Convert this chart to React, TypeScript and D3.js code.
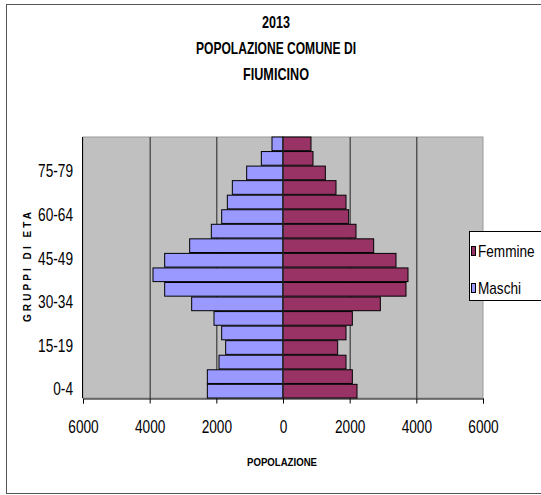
import { useEffect, useRef } from 'react';
import * as d3 from 'd3';

const W = 541;
const H = 495;
const PLOT = { left: 83, right: 483, top: 137, bottom: 398 };

const ageGroups = [
  '0-4', '5-9', '10-14', '15-19', '20-24', '25-29', '30-34', '35-39', '40-44',
  '45-49', '50-54', '55-59', '60-64', '65-69', '70-74', '75-79', '80-84', '85+',
];
const maschi = [2270, 2270, 1920, 1720, 1840, 2070, 2740, 3550, 3900, 3550, 2800, 2150, 1840, 1670, 1520, 1090, 650, 330];
const femmine = [2220, 2080, 1890, 1640, 1890, 2080, 2920, 3690, 3750, 3390, 2720, 2190, 1970, 1890, 1590, 1270, 900, 840];
const xTicks = [-6000, -4000, -2000, 0, 2000, 4000, 6000];
const yLabelGroups = ['0-4', '15-19', '30-34', '45-49', '60-64', '75-79'];
const titleLines = ['2013', 'POPOLAZIONE COMUNE DI', 'FIUMICINO'];
const titleWidths = [28, 160, 66];

const FEM = '#993366';
const MAS = '#9999FF';
const FONT = '"Liberation Sans", Arial, sans-serif';
const SQUEEZE = 0.76;

export default function App() {
  const ref = useRef<SVGSVGElement>(null);

  useEffect(() => {
    if (!ref.current) return;
    const svg = d3.select(ref.current);
    svg.selectAll('*').remove();

    const x = d3.scaleLinear().domain([-6000, 6000]).range([PLOT.left, PLOT.right]);
    const y = d3
      .scaleBand()
      .domain([...ageGroups].reverse())
      .range([PLOT.top, PLOT.bottom])
      .paddingInner(0.06);

    // outer frame
    svg.append('rect')
      .attr('x', 6.5).attr('y', 4.5).attr('width', 540).attr('height', 489)
      .attr('fill', '#fff').attr('stroke', '#555').attr('stroke-width', 1);

    // plot background
    svg.append('rect')
      .attr('x', PLOT.left).attr('y', PLOT.top)
      .attr('width', PLOT.right - PLOT.left).attr('height', PLOT.bottom - PLOT.top)
      .attr('fill', '#C0C0C0').attr('stroke', '#999');

    // gridlines
    svg.append('g')
      .selectAll('line')
      .data(xTicks.filter((t) => Math.abs(t) !== 6000 && t !== 0))
      .enter()
      .append('line')
      .attr('x1', (d) => x(d) + 0.5).attr('x2', (d) => x(d) + 0.5)
      .attr('y1', PLOT.top).attr('y2', PLOT.bottom)
      .attr('stroke', '#222').attr('stroke-width', 1);

    // bars
    svg.append('g')
      .selectAll('rect')
      .data(ageGroups)
      .enter()
      .append('rect')
      .attr('x', (_, i) => x(-maschi[i]))
      .attr('y', (d) => y(d) ?? 0)
      .attr('width', (_, i) => x(0) - x(-maschi[i]))
      .attr('height', y.bandwidth())
      .attr('fill', MAS).attr('stroke', '#000').attr('stroke-width', 1);

    svg.append('g')
      .selectAll('rect')
      .data(ageGroups)
      .enter()
      .append('rect')
      .attr('x', x(0))
      .attr('y', (d) => y(d) ?? 0)
      .attr('width', (_, i) => x(femmine[i]) - x(0))
      .attr('height', y.bandwidth())
      .attr('fill', FEM).attr('stroke', '#000').attr('stroke-width', 1);

    // zero line
    svg.append('line')
      .attr('x1', x(0)).attr('x2', x(0)).attr('y1', PLOT.top).attr('y2', PLOT.bottom)
      .attr('stroke', '#333').attr('stroke-width', 1);

    // x axis
    const xAxis = d3.axisBottom(x).tickValues(xTicks).tickSize(5).tickPadding(17)
      .tickFormat((v) => String(Math.abs(Number(v))));
    const gx = svg.append('g').attr('transform', `translate(0,${PLOT.bottom + 0.5})`).call(xAxis);
    gx.selectAll('text')
      .attr('font-family', FONT).attr('font-size', 18).attr('fill', '#000')
      .attr('transform', `scale(${SQUEEZE},1)`);
    gx.selectAll('.domain, .tick line').attr('stroke', '#000');

    // y labels
    svg.append('g')
      .selectAll('text')
      .data(yLabelGroups)
      .enter()
      .append('text')
      .attr('transform', (d) => `translate(73,${(y(d) ?? 0) + y.bandwidth() / 2 - 2}) scale(${SQUEEZE},1)`)
      .attr('dy', '0.35em')
      .attr('text-anchor', 'end')
      .attr('font-family', FONT).attr('font-size', 18)
      .text((d) => d);

    // left axis line
    svg.append('line')
      .attr('x1', PLOT.left - 0.5).attr('x2', PLOT.left - 0.5)
      .attr('y1', PLOT.top).attr('y2', PLOT.bottom)
      .attr('stroke', '#000');

    // titles
    svg.append('g')
      .selectAll('text')
      .data(titleLines)
      .enter()
      .append('text')
      .attr('x', 276)
      .attr('y', (_, i) => 28 + i * 26)
      .attr('text-anchor', 'middle')
      .attr('font-family', FONT).attr('font-weight', 'bold').attr('font-size', 17)
      .attr('textLength', (_, i) => titleWidths[i])
      .attr('lengthAdjust', 'spacingAndGlyphs')
      .text((d) => d);

    svg.append('text')
      .attr('x', 282).attr('y', 466)
      .attr('text-anchor', 'middle')
      .attr('font-family', FONT).attr('font-weight', 'bold').attr('font-size', 11)
      .attr('textLength', 70).attr('lengthAdjust', 'spacingAndGlyphs')
      .text('POPOLAZIONE');

    svg.append('text')
      .attr('transform', 'translate(31,267) rotate(-90)')
      .attr('text-anchor', 'middle')
      .attr('font-family', FONT).attr('font-weight', 'bold').attr('font-size', 10)
      .attr('textLength', 110).attr('lengthAdjust', 'spacing')
      .text('GRUPPI DI ETA');

    // legend
    const lg = svg.append('g');
    lg.append('rect')
      .attr('x', 469.5).attr('y', 231.5).attr('width', 80).attr('height', 69)
      .attr('fill', '#fff').attr('stroke', '#000');
    const items = [
      { label: 'Femmine', color: FEM },
      { label: 'Maschi', color: MAS },
    ];
    items.forEach((it, i) => {
      const cy = 251 + i * 37;
      lg.append('rect')
        .attr('x', 471.5).attr('y', cy - 4.5).attr('width', 4).attr('height', 9)
        .attr('fill', it.color).attr('stroke', '#000');
      lg.append('text')
        .attr('transform', `translate(478,${cy}) scale(0.85,1)`)
        .attr('dy', '0.35em')
        .attr('font-family', FONT).attr('font-size', 16)
        .text(it.label);
    });
  }, []);

  return (
    <div style={{ position: 'absolute', left: 0, top: 0 }}>
      <svg ref={ref} width={W} height={H} style={{ display: 'block' }} />
    </div>
  );
}
